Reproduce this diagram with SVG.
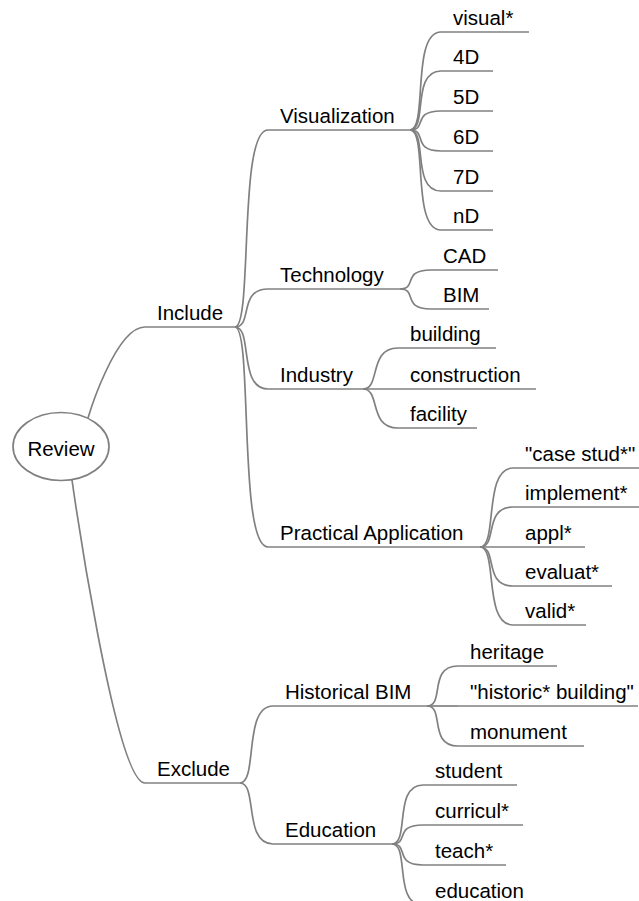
<svg xmlns="http://www.w3.org/2000/svg" width="639" height="901" viewBox="0 0 639 901">
  <style>
    .edge { fill: none; stroke: #808080; stroke-width: 1.7; }
    .uline { fill: none; stroke: #808080; stroke-width: 1.7; }
    .root { fill: #ffffff; stroke: #808080; stroke-width: 1.7; }
    text { font-family: "Liberation Sans", Arial, sans-serif; font-size: 20.5px; fill: #000000; }
  </style>

  <!-- bezier edges: start at parent's right end, end at child's left end -->
  <g id="connectors">
    <path class="edge" d="M 88 418 C 88 418, 115 327, 145 327"/>
    <path class="edge" d="M 72 480 C 72 480, 115 783, 145 783"/>

    <path class="edge" d="M 235 327 C 253 327, 238 130, 268 130"/>
    <path class="edge" d="M 235 327 C 253 327, 238 289, 268 289"/>
    <path class="edge" d="M 235 327 C 253 327, 238 389, 268 389"/>
    <path class="edge" d="M 235 327 C 253 327, 238 547, 268 547"/>

    <path class="edge" d="M 410 130 C 428 130, 411 32, 441 32"/>
    <path class="edge" d="M 410 130 C 428 130, 411 71, 441 71"/>
    <path class="edge" d="M 410 130 C 428 130, 411 111, 441 111"/>
    <path class="edge" d="M 410 130 C 428 130, 411 151, 441 151"/>
    <path class="edge" d="M 410 130 C 428 130, 411 191, 441 191"/>
    <path class="edge" d="M 410 130 C 428 130, 411 230, 441 230"/>

    <path class="edge" d="M 400 289 C 418 289, 401 270, 431 270"/>
    <path class="edge" d="M 400 289 C 418 289, 401 309, 431 309"/>

    <path class="edge" d="M 363 389 C 381 389, 368 348, 398 348"/>
    <path class="edge" d="M 363 389 C 381 389, 368 389, 398 389"/>
    <path class="edge" d="M 363 389 C 381 389, 368 428, 398 428"/>

    <path class="edge" d="M 480 547 C 498 547, 483 468, 513 468"/>
    <path class="edge" d="M 480 547 C 498 547, 483 507, 513 507"/>
    <path class="edge" d="M 480 547 C 498 547, 483 547, 513 547"/>
    <path class="edge" d="M 480 547 C 498 547, 483 586, 513 586"/>
    <path class="edge" d="M 480 547 C 498 547, 483 625, 513 625"/>

    <path class="edge" d="M 240 783 C 258 783, 243 706, 273 706"/>
    <path class="edge" d="M 240 783 C 258 783, 243 844, 273 844"/>

    <path class="edge" d="M 427 706 C 445 706, 428 666, 458 666"/>
    <path class="edge" d="M 427 706 C 445 706, 428 706, 458 706"/>
    <path class="edge" d="M 427 706 C 445 706, 428 746, 458 746"/>

    <path class="edge" d="M 392 844 C 410 844, 393 785, 423 785"/>
    <path class="edge" d="M 392 844 C 410 844, 393 825, 423 825"/>
    <path class="edge" d="M 392 844 C 410 844, 393 865, 423 865"/>
    <path class="edge" d="M 392 844 C 410 844, 393 905, 423 905"/>
  </g>

  <g id="review">
    <ellipse class="root" cx="61" cy="446.5" rx="48" ry="34"/>
    <text x="61" y="456" text-anchor="middle">Review</text>
  </g>

  <g id="include"><line class="uline" x1="145" y1="327" x2="235" y2="327"/><text x="157" y="320">Include</text></g>
  <g id="exclude"><line class="uline" x1="145" y1="783" x2="240" y2="783"/><text x="157" y="776">Exclude</text></g>

  <g id="visualization"><line class="uline" x1="268" y1="130" x2="410" y2="130"/><text x="280" y="122.5">Visualization</text></g>
  <g id="technology"><line class="uline" x1="268" y1="289" x2="400" y2="289"/><text x="280" y="281.5">Technology</text></g>
  <g id="industry"><line class="uline" x1="268" y1="389" x2="363" y2="389"/><text x="280" y="381.5">Industry</text></g>
  <g id="practical-application"><line class="uline" x1="268" y1="547" x2="480" y2="547"/><text x="280" y="539.5">Practical Application</text></g>

  <g id="visual"><line class="uline" x1="441" y1="32" x2="529" y2="32"/><text x="453" y="24.5">visual*</text></g>
  <g id="d4"><line class="uline" x1="441" y1="71" x2="493" y2="71"/><text x="453" y="63.5">4D</text></g>
  <g id="d5"><line class="uline" x1="441" y1="111" x2="493" y2="111"/><text x="453" y="103.5">5D</text></g>
  <g id="d6"><line class="uline" x1="441" y1="151" x2="493" y2="151"/><text x="453" y="143.5">6D</text></g>
  <g id="d7"><line class="uline" x1="441" y1="191" x2="493" y2="191"/><text x="453" y="183.5">7D</text></g>
  <g id="dn"><line class="uline" x1="441" y1="230" x2="493" y2="230"/><text x="453" y="222.5">nD</text></g>

  <g id="cad"><line class="uline" x1="431" y1="270" x2="498" y2="270"/><text x="443" y="262.5">CAD</text></g>
  <g id="bim"><line class="uline" x1="431" y1="309" x2="489" y2="309"/><text x="443" y="301.5">BIM</text></g>

  <g id="building"><line class="uline" x1="398" y1="348" x2="496" y2="348"/><text x="410" y="340.5">building</text></g>
  <g id="construction"><line class="uline" x1="398" y1="389" x2="536" y2="389"/><text x="410" y="381.5">construction</text></g>
  <g id="facility"><line class="uline" x1="398" y1="428" x2="477" y2="428"/><text x="410" y="420.5">facility</text></g>

  <g id="case-study"><line class="uline" x1="513" y1="468" x2="650" y2="468"/><text x="525" y="460.5">"case stud*"</text></g>
  <g id="implement"><line class="uline" x1="513" y1="507" x2="645" y2="507"/><text x="525" y="499.5">implement*</text></g>
  <g id="appl"><line class="uline" x1="513" y1="547" x2="585" y2="547"/><text x="525" y="539.5">appl*</text></g>
  <g id="evaluat"><line class="uline" x1="513" y1="586" x2="612" y2="586"/><text x="525" y="578.5">evaluat*</text></g>
  <g id="valid"><line class="uline" x1="513" y1="625" x2="586" y2="625"/><text x="525" y="617.5">valid*</text></g>

  <g id="historical-bim"><line class="uline" x1="273" y1="706" x2="427" y2="706"/><text x="285" y="698.5">Historical BIM</text></g>
  <g id="education-branch"><line class="uline" x1="273" y1="844" x2="392" y2="844"/><text x="285" y="836.5">Education</text></g>

  <g id="heritage"><line class="uline" x1="458" y1="666" x2="557" y2="666"/><text x="470" y="658.5">heritage</text></g>
  <g id="historic-building"><line class="uline" x1="458" y1="706" x2="638" y2="706"/><text x="470" y="698.5">"historic* building"</text></g>
  <g id="monument"><line class="uline" x1="458" y1="746" x2="584" y2="746"/><text x="470" y="738.5">monument</text></g>

  <g id="student"><line class="uline" x1="423" y1="785" x2="517" y2="785"/><text x="435" y="777.5">student</text></g>
  <g id="curricul"><line class="uline" x1="423" y1="825" x2="523" y2="825"/><text x="435" y="817.5">curricul*</text></g>
  <g id="teach"><line class="uline" x1="423" y1="865" x2="506" y2="865"/><text x="435" y="857.5">teach*</text></g>
  <g id="education"><line class="uline" x1="423" y1="905" x2="538" y2="905"/><text x="435" y="897.5">education</text></g>
</svg>
